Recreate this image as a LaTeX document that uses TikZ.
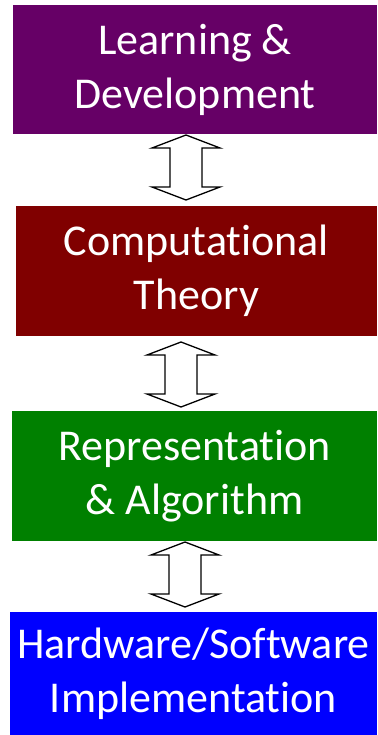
\documentclass[tikz,border=0pt]{standalone}
\usepackage{fontspec}
\setmainfont[Ligatures=NoCommon]{Carlito}
\begin{document}
\begin{tikzpicture}[x=1pt,y=-1pt,
  box/.style={draw=none, inner sep=0pt, text=white, align=center,
    font=\fontsize{44}{54}\selectfont},
  arrowline/.style={draw=black, line width=1.3pt, fill=white, line join=miter},
  dbl/.pic={\path[arrowline] (0,-32.5) -- (34,-19.5) -- (16,-19.5) -- (16,19.5) -- (34,19.5)
      -- (0,32.5) -- (-34,19.5) -- (-16,19.5) -- (-16,-19.5) -- (-34,-19.5) -- cycle;}]
\useasboundingbox (0,0) rectangle (377,735);
\definecolor{cpurple}{HTML}{660066}
\definecolor{cmaroon}{HTML}{800000}
\definecolor{cgreen}{HTML}{008000}
\definecolor{cblue}{HTML}{0000FF}
\node[box, fill=cpurple, minimum width=364pt, minimum height=129pt] (ld) at (195,69.5) {Learning \&\\Development};
\node[box, fill=cmaroon, minimum width=361pt, minimum height=130pt] (ct) at (196.5,271) {Computational\\Theory};
\node[box, fill=cgreen, minimum width=365pt, minimum height=130pt] (ra) at (194.5,476) {Representation\\\& Algorithm};
\node[box, fill=cblue, minimum width=367pt, minimum height=123pt] (hw) at (193.5,673.5) {Hardware/Software\\Implementation};
\pic (a1) at (186,167.5) {dbl};
\pic (a2) at (181,374.5) {dbl};
\pic (a3) at (185,574.5) {dbl};
\end{tikzpicture}
\end{document}
